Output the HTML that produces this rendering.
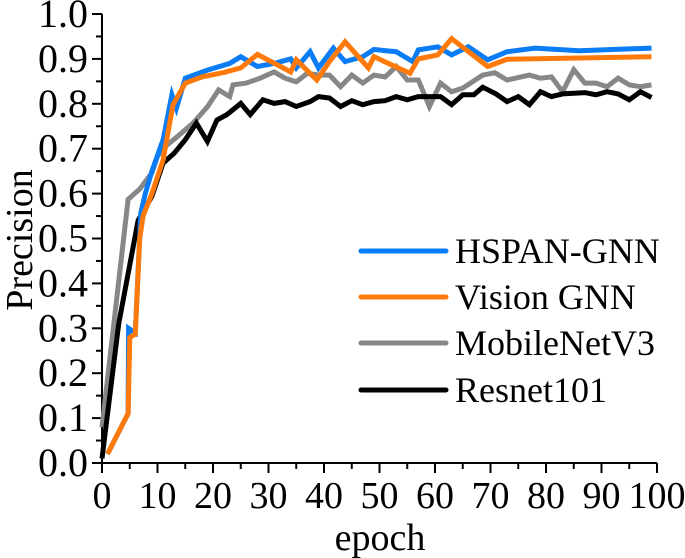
<!DOCTYPE html>
<html><head><meta charset="utf-8"><style>
html,body{margin:0;padding:0;background:#fff;}
svg{display:block;}
svg text{font-family:'Liberation Serif','Times New Roman',serif;}
</style></head><body>
<svg id="chart" width="685" height="558" viewBox="0 0 685 558" font-family="Liberation Serif, Times New Roman, serif">
<g id="axes"></g>
<g id="series"></g>
<g id="legend"></g>
<text x="380" y="550" font-size="38" text-anchor="middle" font-family="Liberation Serif, serif">epoch</text>
<text transform="translate(32,240) rotate(-90)" font-size="38" text-anchor="middle" font-family="Liberation Serif, serif">Precision</text>
</svg>
<script>
const xTicks=[0,10,20,30,40,50,60,70,80,90,100];
const yTicks=[0,0.1,0.2,0.3,0.4,0.5,0.6,0.7,0.8,0.9,1.0];
const seriesNames=["HSPAN-GNN","Vision GNN","MobileNetV3","Resnet101"];
const seriesColors=["#0a7cf5","#ff7a0a","#878787","#000000"];
const hspanX=[1,4.7,4.8,6,7,7.8,9,11,12.6,13.4,15,19,23,25,28,31,34,35,37.5,39,41.7,43.8,47,49,53,56,57,60.5,63,66,69.5,73,78,86,99];
const hspanY=[0.02,0.11,0.30,0.29,0.557,0.60,0.65,0.72,0.82,0.79,0.857,0.875,0.89,0.905,0.883,0.89,0.90,0.88,0.916,0.88,0.924,0.894,0.905,0.921,0.916,0.894,0.92,0.927,0.909,0.927,0.898,0.916,0.924,0.918,0.924];
const visionX=[1,4.7,5,6,6.8,7.4,9,11,12.8,15,18,22,25,28,34,35,38.7,41,43.8,48,49,55.5,57,60.5,63,69.5,73,99];
const visionY=[0.02,0.11,0.28,0.287,0.50,0.55,0.60,0.675,0.798,0.846,0.86,0.87,0.88,0.91,0.871,0.898,0.853,0.894,0.938,0.88,0.905,0.868,0.90,0.909,0.945,0.883,0.899,0.905];
const mobileX=[0,4.7,6.8,9,10,11.4,13.7,16.4,19,21,23,23.6,26,28.5,31,33,35,37,39,41,43,45,47,49,51,53,55,57,59,61,63,65,68.6,70.8,73,77,79,81,83,85,87,89,91,93,95,97,99];
const mobileY=[0.08,0.587,0.61,0.646,0.683,0.705,0.728,0.757,0.793,0.831,0.816,0.842,0.846,0.857,0.871,0.857,0.849,0.868,0.864,0.864,0.838,0.864,0.846,0.864,0.86,0.883,0.853,0.853,0.794,0.846,0.827,0.835,0.864,0.869,0.853,0.864,0.857,0.86,0.827,0.876,0.846,0.846,0.838,0.857,0.842,0.838,0.842];
const resnetX=[0,3,6.5,9,11,13,15,17,19,20.7,22.5,25,26.7,29,31,33,35,37.5,39,41,43,45,47,49,51,53,55,57,61,63,65,67,68.6,71,73,75,77,79,81,83,87,89,91,93,95,97,99];
const resnetY=[0.01,0.31,0.54,0.594,0.668,0.69,0.72,0.757,0.716,0.764,0.776,0.801,0.776,0.809,0.801,0.805,0.794,0.805,0.816,0.813,0.794,0.807,0.798,0.805,0.807,0.816,0.809,0.816,0.816,0.798,0.82,0.82,0.837,0.822,0.805,0.816,0.798,0.827,0.816,0.822,0.825,0.82,0.827,0.822,0.809,0.827,0.814];

const X0=102,X1=657,Y0=463,Y1=14;
const sx=v=>X0+(v-0)/(100-0)*(X1-X0);
const sy=v=>Y0-(v-0)/(1-0)*(Y0-Y1);
const NS="http://www.w3.org/2000/svg";
const FF="Liberation Serif, Times New Roman, serif";
function mk(tag,attrs,parent){const e=document.createElementNS(NS,tag);for(const k in attrs)e.setAttribute(k,attrs[k]);parent.appendChild(e);return e;}
const axes=document.getElementById('axes');
let e=mk('line',{x1:X0,y1:Y0,x2:X1,y2:Y0,stroke:'#000','stroke-width':2},axes);


e=mk('line',{x1:X0,y1:Y0,x2:X0,y2:Y1,stroke:'#000','stroke-width':2},axes);


xTicks.forEach((t,i)=>{
  const x=sx(t);
  let l=mk('line',{x1:x,y1:Y0,x2:x,y2:Y0+10,stroke:'#000','stroke-width':2},axes);
  
  
  if(i<xTicks.length-1){let m=mk('line',{x1:sx(t+5),y1:Y0,x2:sx(t+5),y2:Y0+6,stroke:'#000','stroke-width':2},axes);
  
  }
  let tx=mk('text',{x:x,y:Y0+45,'font-size':38,'text-anchor':'middle','font-family':FF},axes);
  tx.textContent=String(t);
  
  
});
yTicks.forEach((t,i)=>{
  const y=sy(t);
  let l=mk('line',{x1:X0,y1:y,x2:X0-10,y2:y,stroke:'#000','stroke-width':2},axes);
  
  
  if(i<yTicks.length-1){let m=mk('line',{x1:X0,y1:sy(t+0.05),x2:X0-6,y2:sy(t+0.05),stroke:'#000','stroke-width':2},axes);
  
  }
  let tx=mk('text',{x:X0-14,y:y+13,'font-size':40,'text-anchor':'end','font-family':FF},axes);
  tx.textContent=t.toFixed(1);
  
  
});
const ser=document.getElementById('series');
const all=[[hspanX,hspanY],[visionX,visionY],[mobileX,mobileY],[resnetX,resnetY]];
const order=[2,3,0,1];
order.forEach(i=>{
  const [xs,ys]=all[i];
  const d=xs.map((x,k)=>(k?'L':'M')+sx(x).toFixed(1)+','+sy(ys[k]).toFixed(1)).join(' ');
  let p=mk('path',{d:d,fill:'none',stroke:seriesColors[i],'stroke-width':5,'stroke-linejoin':'miter'},ser);
  
  
});
const leg=document.getElementById('legend');
const rows=[251,297,343,390];
seriesNames.forEach((n,i)=>{
  let l=mk('line',{x1:361,y1:rows[i],x2:446,y2:rows[i],stroke:seriesColors[i],'stroke-width':5,'stroke-linecap':'round'},leg);
  
  
  let t=mk('text',{x:455,y:rows[i]+12,'font-size':36,'font-family':FF},leg);
  t.textContent=n;
  
  
});
</script>
</body></html>
